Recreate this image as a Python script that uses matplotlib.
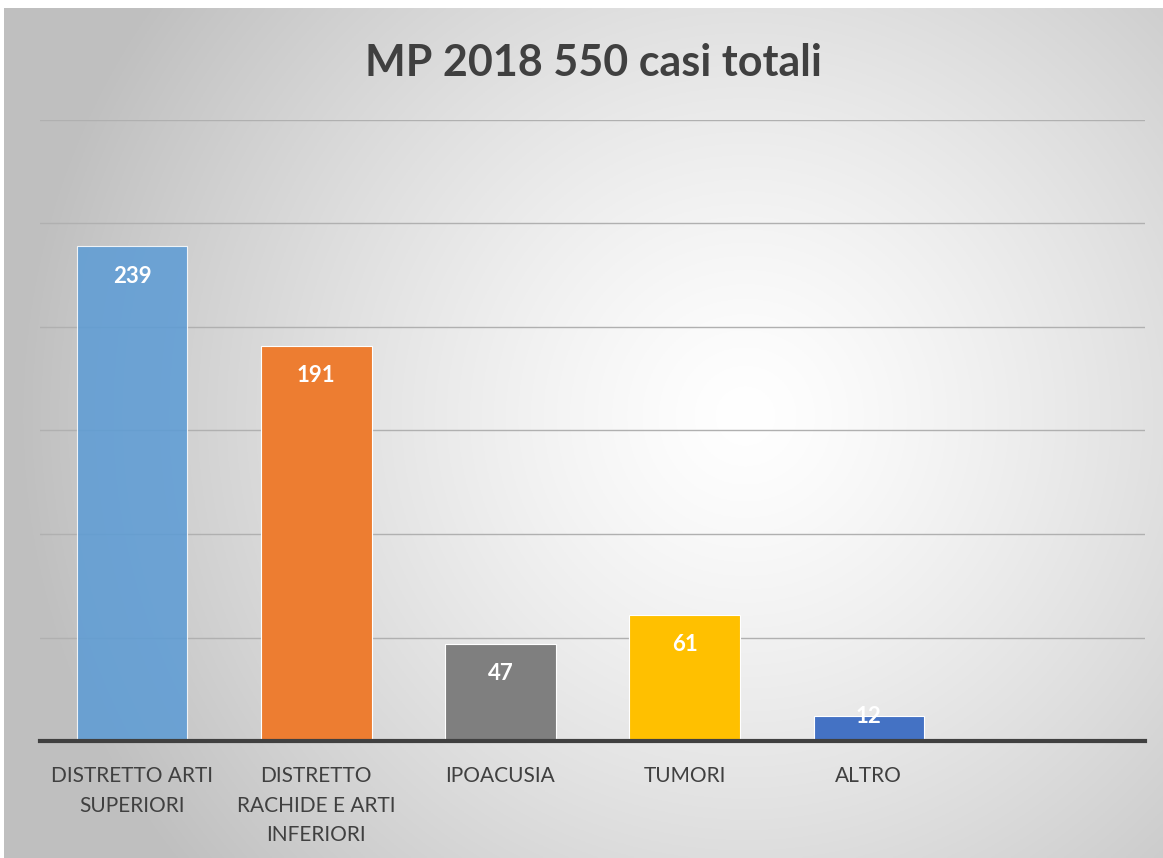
import numpy as np
import matplotlib.pyplot as plt

categories = ["DISTRETTO ARTI\nSUPERIORI", "DISTRETTO\nRACHIDE E ARTI\nINFERIORI",
              "IPOACUSIA", "TUMORI", "ALTRO", ""]
values = [239, 191, 47, 61, 12, None]
colors = ["#5B9BD5", "#ED7D31", "#7F7F7F", "#FFC000", "#4472C4"]
title = "MP 2018 550 casi totali"

W, H = 1163, 858
fig = plt.figure(figsize=(W / 100, H / 100), dpi=100)
fig.patch.set_facecolor("white")

# sfondo a gradiente radiale
bg = fig.add_axes([4 / W, 0, 1 - 4 / W, 1 - 8 / H])
bg.set_axis_off()
yy, xx = np.mgrid[0:1:400j, 0:1:600j]
d = np.sqrt(((xx - 0.64) * 1.35) ** 2 + ((yy - 0.52) * 1.0) ** 2)
d = np.clip(d / 0.85, 0, 1) ** 1.3
g = 1.0 - d * (1.0 - 0.75)
img = np.dstack([g, g, g])
bg.imshow(img, extent=[0, 1, 0, 1], aspect="auto", origin="lower")
bg.set_xlim(0, 1)
bg.set_ylim(0, 1)

ax = fig.add_axes([40 / W, 117 / H, 1105 / W, 621 / H])
ax.patch.set_alpha(0)
x = np.arange(len(categories))
for i, v in enumerate(values):
    if v is None:
        continue
    alpha = 0.85 if i == 0 else 1.0
    ax.bar(x[i], v, width=0.6, color=colors[i], alpha=alpha,
           edgecolor="white", linewidth=0.8, zorder=3)
    ly = v - 14.5 if v > 25 else v
    ax.text(x[i], ly, str(v), ha="center", va="center", color="white",
            fontsize=16, fontweight="bold", family="Lato", zorder=4)

ax.set_xlim(-0.5, len(categories) - 0.5)
ax.set_ylim(0, 300)
ax.set_yticks(np.arange(50, 301, 50))
ax.yaxis.grid(True, color="#b0b0b0", linewidth=1.0, zorder=1)
ax.tick_params(axis="y", length=0, labelleft=False)
ax.set_xticks(x)
ax.set_xticklabels(categories, fontsize=15, color="#404040", family="Lato",
                   linespacing=1.6)
ax.tick_params(axis="x", length=0, pad=18)
for s in ["top", "right", "left"]:
    ax.spines[s].set_visible(False)
ax.spines["bottom"].set_color("#404040")
ax.spines["bottom"].set_linewidth(3)
ax.spines["bottom"].set_zorder(5)

fig.text(593 / W, 1 - 63 / H, title, ha="center", va="center",
         fontsize=31, fontweight="bold", color="#404040", family="Lato")

fig.savefig("out.png", dpi=100)
